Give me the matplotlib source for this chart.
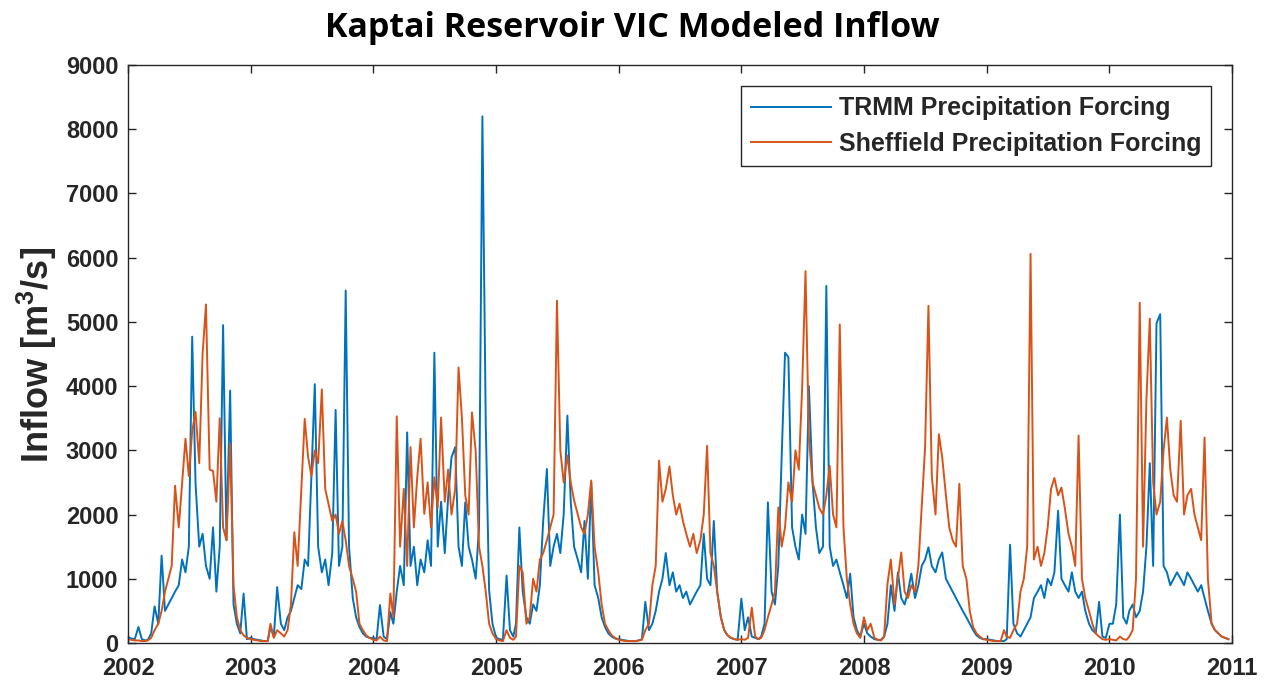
import numpy as np
import matplotlib
matplotlib.use("Agg")
import matplotlib.pyplot as plt
import matplotlib.dates as mdates

plt.rcParams['font.family'] = ['Liberation Sans', 'DejaVu Sans']
plt.rcParams['mathtext.fontset'] = 'custom'
plt.rcParams['mathtext.rm'] = 'Liberation Sans:bold'
plt.rcParams['mathtext.default'] = 'rm'

years = list(range(2002, 2011))
year_ticks = list(range(2002, 2012))
series_names = ['TRMM Precipitation Forcing', 'Sheffield Precipitation Forcing']

# modeled inflow (m3/s) on the 1st, 11th and 21st of each month, one row per year
trmm_inflow = [
    [90, 70, 60, 250, 60, 40, 50, 150, 570, 300, 1360, 500, 600, 700, 800, 900, 1300, 1100,
     1500, 4770, 2480, 1500, 1700, 1200, 1000, 1800, 800, 1500, 4950, 1600, 3930, 600, 300, 150, 770, 60],
    [80, 60, 50, 40, 30, 30, 250, 100, 870, 300, 200, 400, 500, 700, 900, 840, 1300, 1200,
     2600, 4030, 1500, 1100, 1300, 900, 1400, 3630, 1200, 1500, 5490, 1500, 700, 400, 250, 150, 100, 80],
    [80, 60, 590, 100, 60, 480, 300, 800, 1200, 900, 3280, 1200, 1500, 900, 1300, 1100, 1600, 1200,
     4520, 1500, 2200, 1400, 2270, 2890, 3050, 1500, 1200, 2190, 1500, 1300, 1000, 1800, 8200, 3410, 820, 300],
    [80, 60, 50, 1050, 200, 100, 300, 1800, 800, 400, 300, 600, 500, 900, 1900, 2710, 1200, 1500,
     1700, 1400, 2000, 3540, 2200, 1500, 1300, 1100, 1900, 1000, 2500, 900, 700, 400, 250, 150, 100, 70],
    [60, 50, 40, 30, 30, 30, 40, 60, 640, 200, 300, 500, 800, 1000, 1400, 900, 1100, 800,
     900, 700, 800, 600, 700, 800, 900, 1700, 1000, 900, 1900, 800, 400, 200, 120, 80, 60, 50],
    [690, 200, 400, 100, 80, 60, 100, 300, 2190, 800, 600, 1200, 2900, 4520, 4450, 1800, 1500, 1300,
     2000, 1700, 4000, 2500, 1800, 1400, 1500, 5560, 1500, 1200, 1300, 1100, 900, 700, 1080, 400, 200, 100],
    [300, 150, 100, 60, 50, 50, 100, 300, 900, 500, 1100, 700, 600, 800, 1080, 700, 900, 1200,
     1300, 1490, 1200, 1100, 1300, 1410, 1000, 900, 800, 700, 600, 500, 400, 300, 200, 120, 80, 60],
    [60, 50, 40, 30, 30, 30, 60, 1530, 300, 150, 100, 200, 300, 400, 700, 800, 900, 700,
     1000, 900, 1100, 2060, 1000, 900, 800, 1100, 800, 700, 800, 500, 300, 200, 150, 640, 100, 80],
    [300, 300, 600, 2000, 400, 300, 500, 600, 400, 500, 800, 1500, 2800, 1200, 4980, 5120, 1200, 1100,
     900, 1000, 1100, 1000, 900, 1100, 1000, 900, 800, 900, 700, 500, 300, 200, 150, 100, 80, 60],
]

sheffield_inflow = [
    [60, 50, 40, 40, 30, 30, 40, 80, 200, 300, 500, 800, 1000, 1200, 2450, 1800, 2500, 3180,
     2600, 3300, 3600, 2800, 4500, 5270, 2700, 2680, 2200, 3500, 1800, 1600, 3100, 900, 400, 200, 120, 80],
    [60, 50, 40, 30, 30, 30, 300, 80, 200, 150, 100, 200, 600, 1725, 1200, 2400, 3490, 2900,
     2600, 3000, 2800, 3950, 2400, 2160, 1900, 2000, 1700, 1900, 1600, 1200, 1000, 800, 300, 200, 120, 80],
    [50, 40, 100, 40, 30, 770, 400, 3530, 1500, 2400, 1200, 3050, 1800, 2580, 3180, 2010, 2500, 1800,
     2580, 2110, 3510, 2200, 2700, 2000, 2400, 4290, 3510, 2300, 2000, 3590, 2990, 1500, 1200, 800, 300, 150],
    [60, 40, 30, 200, 80, 50, 100, 1200, 1100, 300, 400, 1000, 800, 1300, 1400, 1600, 1800, 2000,
     5330, 3000, 2500, 2920, 2500, 2220, 2000, 1800, 1700, 2000, 2530, 1500, 1100, 600, 300, 200, 120, 80],
    [50, 40, 30, 30, 30, 30, 40, 50, 200, 300, 900, 1200, 2840, 2200, 2400, 2750, 2300, 2000,
     2170, 1900, 1700, 1500, 1700, 1400, 1600, 2000, 3070, 1400, 1200, 800, 400, 200, 120, 80, 60, 50],
    [60, 50, 80, 550, 100, 60, 80, 200, 400, 600, 800, 2110, 1500, 1800, 2500, 2200, 3000, 2700,
     3980, 5790, 3200, 2500, 2300, 2100, 2000, 2300, 2760, 2000, 1800, 4960, 1800, 1000, 600, 300, 150, 80],
    [400, 200, 300, 80, 50, 40, 100, 920, 1300, 600, 1000, 1410, 800, 700, 900, 800, 1200, 2140,
     3050, 5250, 2600, 2000, 3250, 2890, 2300, 1800, 1600, 1500, 2480, 1200, 1000, 500, 250, 150, 100, 60],
    [50, 40, 30, 30, 30, 200, 100, 80, 200, 300, 800, 1000, 1500, 6060, 1300, 1500, 1200, 1400,
     1800, 2400, 2570, 2300, 2420, 2100, 1700, 1500, 1200, 3230, 1000, 700, 500, 300, 150, 100, 60, 50],
    [60, 50, 40, 100, 60, 50, 100, 200, 1000, 5300, 1500, 3800, 5050, 2500, 2000, 2200, 3000, 3510,
     2700, 2300, 2200, 3460, 2000, 2300, 2400, 2000, 1800, 1600, 3200, 1000, 300, 200, 150, 100, 80, 60],
]


def dekad_dates(year_list):
    dates = []
    for y in year_list:
        for m in range(1, 13):
            for d in (1, 11, 21):
                dates.append(np.datetime64(f"{y}-{m:02d}-{d:02d}"))
    return np.array(dates)


dates = dekad_dates(years)
trmm = np.concatenate(trmm_inflow)
sheffield = np.concatenate(sheffield_inflow)

fig = plt.figure(figsize=(12.74, 6.85), dpi=100)
ax = fig.add_axes([0.1005, 0.0613, 0.8666, 0.8438])

ax.plot(dates, trmm, color='#0072BD', lw=1.4, label=series_names[0])
ax.plot(dates, sheffield, color='#D95319', lw=1.4, label=series_names[1])

ax.set_ylim(0, 9000)
ax.set_yticks(np.arange(0, 9001, 1000))
ax.set_xlim(np.datetime64('2002-01-01'), np.datetime64('2011-01-01'))
ax.set_xticks([np.datetime64(f"{y}-01-01") for y in year_ticks])
ax.xaxis.set_major_formatter(mdates.DateFormatter('%Y'))

ax.tick_params(direction='in', top=True, right=True, length=6, width=1,
               colors='#262626', labelsize=17)
ax.tick_params(axis='x', pad=10)
ax.tick_params(axis='y', pad=7)
for lab in ax.get_xticklabels() + ax.get_yticklabels():
    lab.set_fontweight('bold')
    lab.set_color('#262626')
for sp in ax.spines.values():
    sp.set_color('#262626')
    sp.set_linewidth(1.0)

fig.text(37 / 1274, 0.482, 'Inflow [m$^{3}$/s]', rotation=90, ha='center', va='center',
         fontsize=26, fontweight='bold', color='#262626')

fig.text(632 / 1274, 1 - 37 / 685, 'Kaptai Reservoir VIC Modeled Inflow', ha='center',
         va='baseline', fontsize=24.5, fontweight='bold', family='Open Sans', color='black')

leg = ax.legend(loc='upper right', bbox_to_anchor=(0.981, 0.963), borderaxespad=0,
                prop={'weight': 'bold', 'size': 18}, handlelength=3.2, handletextpad=0.3,
                labelspacing=0.45, borderpad=0.4, fancybox=False, framealpha=1)
leg.get_frame().set_edgecolor('#262626')
leg.get_frame().set_linewidth(1.0)
for t in leg.get_texts():
    t.set_color('#262626')

fig.savefig('out.png', dpi=100)
